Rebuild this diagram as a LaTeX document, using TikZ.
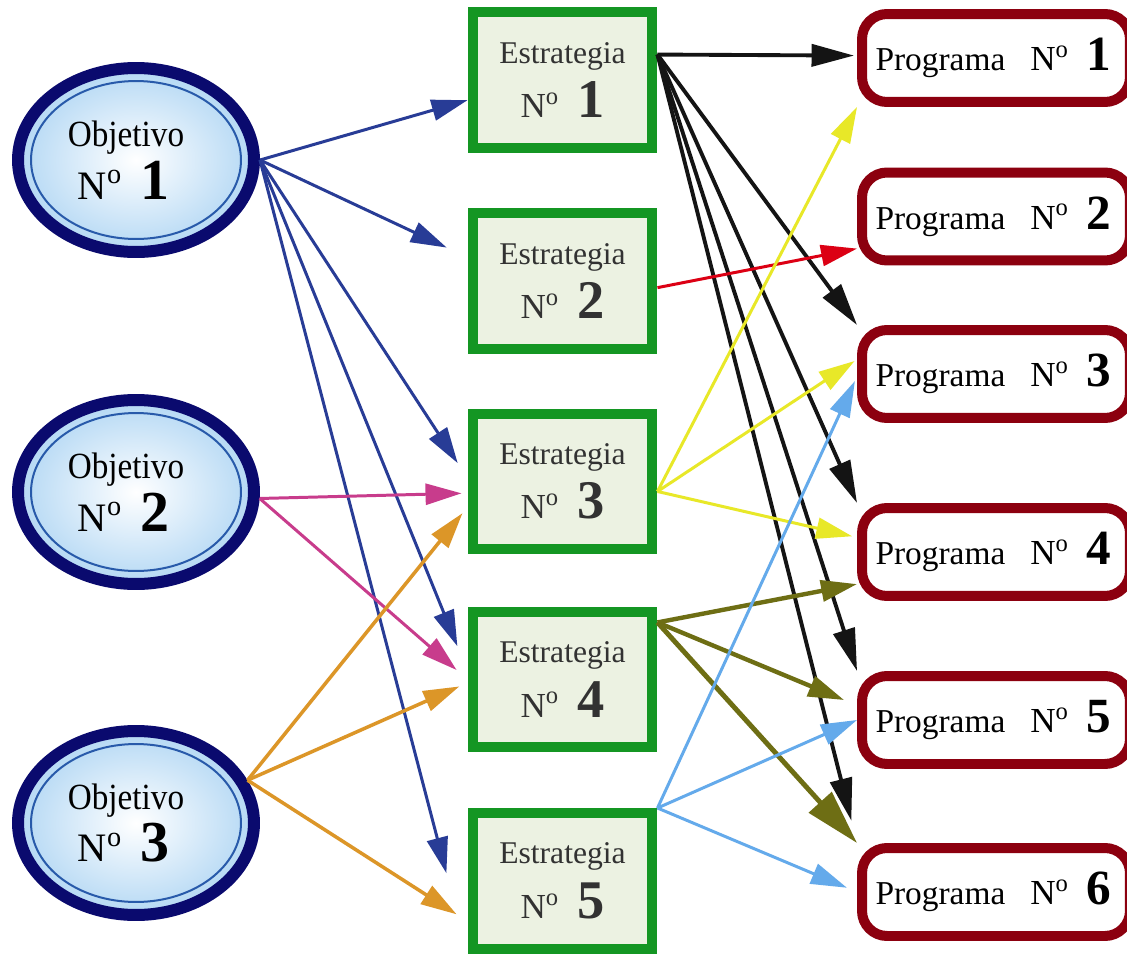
\documentclass[tikz,border=0pt]{standalone}
\usepackage{fontspec}
\setmainfont{Liberation Serif}
\usetikzlibrary{shapes.geometric,arrows.meta}

\definecolor{marino}{RGB}{10,10,110}
\definecolor{anillo}{RGB}{40,90,170}
\definecolor{celeste}{RGB}{180,216,244}
\definecolor{verde}{RGB}{20,150,35}
\definecolor{verdeclaro}{RGB}{236,242,226}
\definecolor{granate}{RGB}{140,0,15}
\definecolor{gris}{RGB}{50,50,50}
\definecolor{azul}{RGB}{40,60,150}
\definecolor{rosa}{RGB}{200,60,140}
\definecolor{naranja}{RGB}{220,150,40}
\definecolor{negro}{RGB}{20,20,20}
\definecolor{rojo}{RGB}{220,0,20}
\definecolor{amarillo}{RGB}{232,232,40}
\definecolor{oliva}{RGB}{110,110,20}
\definecolor{azulclaro}{RGB}{100,170,235}

\newcommand{\nro}[3]{{\fontsize{#1}{#1}\selectfont N\textsuperscript{o}}\hspace{0.36cm}{\fontsize{#2}{#2}\selectfont\bfseries #3}}

\tikzset{
    objetivo/.style={ellipse, draw=marino, line width=0.24cm, minimum width=4.72cm, minimum height=3.68cm,
        inner color=white, outer color=celeste, align=center, font=\fontsize{21}{30}\selectfont},
    estrategia/.style={rectangle, draw=verde, line width=0.2cm, fill=verdeclaro, minimum width=3.6cm,
        minimum height=2.72cm, align=center, text=gris, font=\fontsize{18}{31}\selectfont},
    programa/.style={rectangle, rounded corners=0.5cm, draw=granate, line width=0.2cm, fill=white,
        minimum width=5.36cm, minimum height=1.76cm, font=\fontsize{19}{19}\selectfont},
    flecha/.style={-{Triangle[length=0.72cm,width=0.42cm]}, line width=1.7pt},
}

\begin{document}
\begin{tikzpicture}[x=0.02cm, y=-0.02cm]
        \path[use as bounding box, fill=white] (0,0) rectangle (1127,954);

        \foreach \y[count=\i] in {160,492,823} {
            \node[objetivo] (o\i) at (136,\y)
                {\scalebox{0.9}[1]{Objetivo}\hspace*{0.4cm}\\\nro{23}{33}{\i}\hspace*{0.5cm}};
            \draw[anillo, line width=0.04cm] (o\i.center) ellipse [x radius=2.1cm, y radius=1.58cm];
        }
        \foreach \y[count=\i] in {80,281,481.5,679.5,881}
            \node[estrategia] (e\i) at (562.5,\y) {Estrategia\\\nro{20}{31}{\i}};
        \foreach \y[count=\i] in {58,216.5,374,552,720,892}
            \node[programa] (p\i) at (996,\y) {Programa\hspace{0.5cm}\nro{20}{28}{\i}\hspace*{0.1cm}};

        % objetivos -> estrategias
        \foreach \t/\s in {e1.192/0, e2.166/0.46, e3.178/0.36, e4.175/0.54, e5.south west/1.67}
            \draw[flecha, azul, shorten >=\s cm] (o1.east) -- (\t);
        \foreach \t/\s in {e3.187/0.12, e4.180/0.29}
            \draw[flecha, rosa, shorten >=\s cm] (o2.-3) -- (\t);
        \foreach \t/\s in {e3.195/0.16, e4.182/0.18, e5.203/0.26}
            \draw[flecha, naranja, line width=2pt, shorten >=\s cm] (o3.21) -- (\t);

        % estrategias -> programas
        \foreach \t/\s in {p1.179/0.06, p3.north west/0, p4.north west/0, p5.north west/0, p6.north west/0.46}
            \draw[negro, line width=2.2pt, -{Triangle[length=0.85cm,width=0.44cm]}, shorten >=\s cm] (e1.15) -- (\t);
        \draw[flecha, rojo] (e2.-4) -- (p2.193);
        \foreach \t/\s in {p1.south west/0, p3.174/0.06, p4.174/0.1}
            \draw[flecha, amarillo, shorten >=\s cm] (e3.-6) -- (\t);
        \foreach \t/\s in {p4.193/0, p5.174/0.28}
            \draw[flecha, oliva, line width=2.5pt, shorten >=\s cm] (e4.31) -- (\t);
        \draw[oliva, line width=2.8pt, -{Triangle[length=1.1cm,width=0.6cm]}] (e4.31) -- (p6.north west);
        \foreach \t/\s in {p3.181/0.1, p5.west/0, p6.west/0.22}
            \draw[flecha, azulclaro, shorten >=\s cm] (e5.north east) -- (\t);
    \end{tikzpicture}
\end{document}
